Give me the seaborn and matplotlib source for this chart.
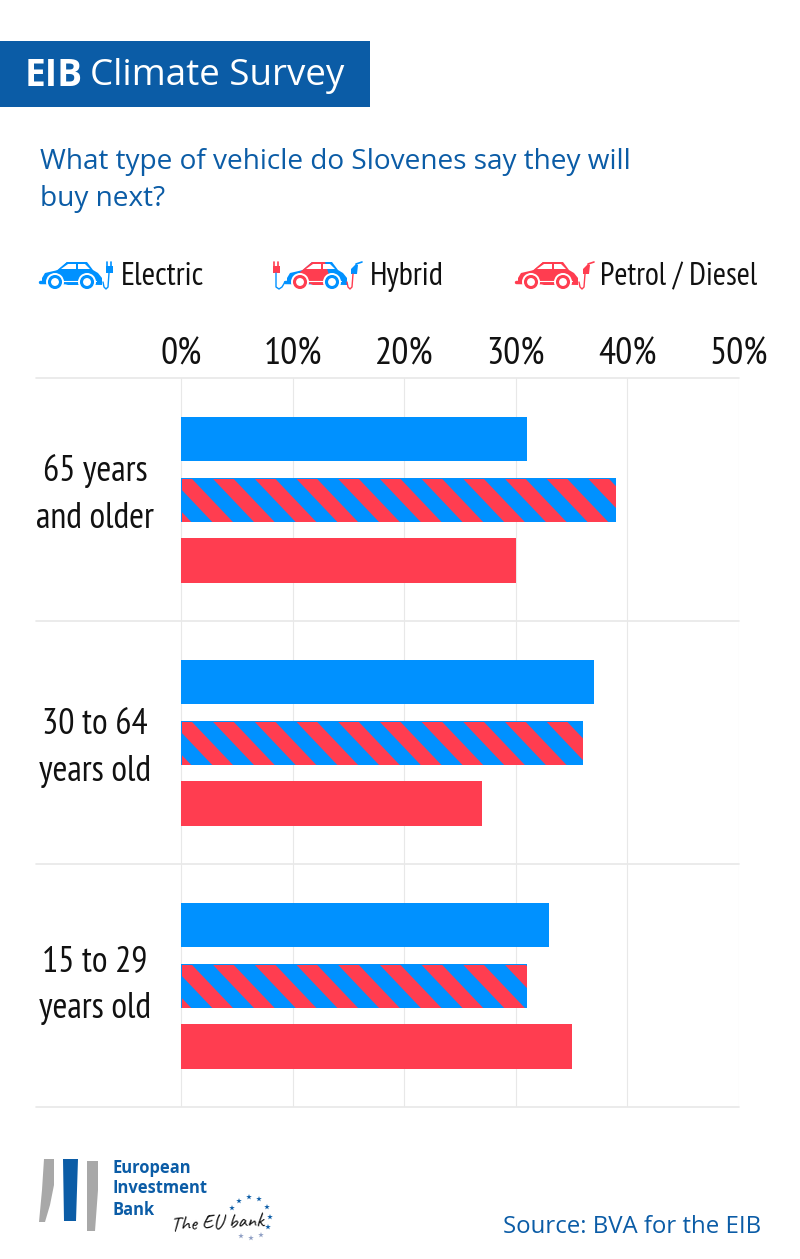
import matplotlib
matplotlib.use("Agg")
import matplotlib.pyplot as plt
import matplotlib.patches as mpatches
import numpy as np
import pandas as pd
import seaborn as sns

# data
age_groups = ["65 years\nand older", "30 to 64\nyears old", "15 to 29\nyears old"]
vehicle_types = ["Electric", "Hybrid", "Petrol / Diesel"]
electric = [31, 37, 33]
hybrid = [39, 36, 31]
petrol = [30, 27, 35]
x_ticks = [0, 10, 20, 30, 40, 50]
x_tick_labels = ["0%", "10%", "20%", "30%", "40%", "50%"]

BLUE = "#0091ff"
RED = "#ff3d50"
NAVY = "#0b5ca6"
W, H = 800, 1259
DPI = 100
NARROW = ["PT Sans Narrow", "Roboto Condensed", "Liberation Sans Narrow", "Open Sans", "DejaVu Sans"]
OPEN = ["Open Sans", "DejaVu Sans"]
SCRIPT = ["Caveat", "DejaVu Serif"]


def px(size):
    return size * 72 / DPI


df = pd.DataFrame({
    "age": np.repeat(age_groups, 3),
    "vehicle": vehicle_types * 3,
    "share": [v for trio in zip(electric, hybrid, petrol) for v in trio],
})

sns.set_theme(style="white")
plt.rcParams["font.family"] = NARROW

fig = plt.figure(figsize=(W / DPI, H / DPI), dpi=DPI, facecolor="white")
# axes starts left of zero so the row separators reach under the age labels
ax = fig.add_axes([36 / W, 1 - 1107.2 / H, (739 - 36) / W, (1107 - 378) / H])

sns.barplot(
    data=df, y="age", x="share", hue="vehicle", order=age_groups,
    hue_order=vehicle_types, palette=[BLUE, BLUE, RED], width=0.75, gap=0.27,
    saturation=1, legend=False, ax=ax, zorder=3, linewidth=0,
)
ax.set_xlim(-13, 50)
ax.set_ylim(2.5, -0.5)
ax.set_xlabel("")
ax.set_ylabel("")
ax.set_xticks(x_ticks, x_tick_labels)
ax.set_yticks([])
ax.xaxis.tick_top()
ax.tick_params(axis="x", length=0, pad=px(6), labelsize=px(38), labelcolor="#111111")
for s in ax.spines.values():
    s.set_visible(False)
for x in x_ticks:
    ax.axvline(x, color="#e8e8e8", lw=0.8, zorder=1)
for y in [-0.5, 0.5, 1.5, 2.5]:
    ax.axhline(y, color="#e8e8e8", lw=1.2, zorder=1, clip_on=False)

# age labels, nudged a little off the group centres like the original
nudge = [-5, 5, -1]
x_per_px = 63 / (739 - 36)
y_per_px = 3 / (1107 - 378)
for i, lab in enumerate(age_groups):
    ax.text(-86 * x_per_px, i + nudge[i] * y_per_px, lab, ha="center", va="center",
            fontsize=px(36), color="#111111", linespacing=1.53)

# hybrid bars: red diagonal stripes clipped to the blue bar
period = 41.7
stripe_w = 15.0
hybrid_bars = ax.containers[1]
for bar in hybrid_bars:
    x0, x1 = bar.get_x(), bar.get_x() + bar.get_width()
    y0, y1 = bar.get_y(), bar.get_y() + bar.get_height()
    h_px = (y1 - y0) / y_per_px
    # the clip box rounds outward by a pixel, so pull it in on the top left
    clip = mpatches.Rectangle((x0 + x_per_px, y0 + y_per_px), x1 - x0 - x_per_px, y1 - y0 - y_per_px,
                              transform=ax.transData)
    for k in range(30):
        sx = 41 + (k - 3) * period
        if sx * x_per_px > x1:
            break
        # run past both long edges so only the clip shapes the stripe ends
        ln, = ax.plot([(sx - h_px * 0.95) * x_per_px, (sx + 2 * h_px * 0.95) * x_per_px],
                      [y0 - (y1 - y0), y1 + (y1 - y0)], color=RED,
                      lw=px(stripe_w), solid_capstyle="butt", zorder=4)
        ln.set_clip_path(clip)
ax.set_xlim(-13, 50)
ax.set_ylim(2.5, -0.5)

# page furniture in pixel coordinates
ov = fig.add_axes([0, 0, 1, 1], facecolor="none")
ov.set_xlim(0, W)
ov.set_ylim(H, 0)
ov.axis("off")

ov.add_patch(mpatches.Rectangle((0, 41), 370, 66, color=NAVY, lw=0))
ov.text(25, 76, "EIB", color="white", fontsize=px(37), fontweight="bold", family=OPEN, va="center")
ov.text(90, 76, "Climate Survey", color="white", fontsize=px(36.7), family=OPEN, va="center")

ov.text(40, 162, "What type of vehicle do Slovenes say they will", color=NAVY,
        fontsize=px(28), family=OPEN, va="center")
ov.text(40, 199, "buy next?", color=NAVY, fontsize=px(28), family=OPEN, va="center")

CAR_BODY = [(2, 284), (2, 278), (5, 273), (18, 270), (27, 262), (47, 262), (53, 270), (58, 273), (62, 278), (62, 285)]
CAR_MID = [(15, 272), (27, 262), (40, 262), (47, 285), (28, 285), (14, 279)]
WINDOW_L = [(21, 269), (28, 264), (36, 264), (36, 269)]
WINDOW_R = [(38, 269), (38, 264), (45, 264), (50, 269)]


def car(x0, body, mid, wheels):
    ov.add_patch(mpatches.Polygon([(x0 + a, b) for a, b in CAR_BODY], fc=body, ec="none"))
    ov.add_patch(mpatches.Polygon([(x0 + a, b) for a, b in CAR_MID], fc=mid, ec="none"))
    for win in (WINDOW_L, WINDOW_R):
        ov.add_patch(mpatches.Polygon([(x0 + a, b) for a, b in win], fc="white", ec="none"))
    ov.plot([x0, x0 + 7], [282, 282], color=body, lw=2.5)
    ov.plot([x0 + 7, x0 + 56], [280.5, 280.5], color="white", lw=0.8, zorder=2)
    for cx, c in ((x0 + 15, wheels[0]), (x0 + 47, wheels[1])):
        ov.add_patch(mpatches.Circle((cx, 282), 9, fc="white", ec="none", zorder=3))
        ov.add_patch(mpatches.Circle((cx, 282), 5.5, fc="white", ec=c, lw=2.2, zorder=4))


def plug(x, c):
    ov.add_patch(mpatches.Rectangle((x - 3.5, 266), 7, 7, fc=c, ec="none"))
    ov.plot([x - 2, x - 2], [262, 266], color=c, lw=1.2)
    ov.plot([x + 2, x + 2], [262, 266], color=c, lw=1.2)


def pump(x, c):
    ov.add_patch(mpatches.Polygon([(x - 3, 274), (x - 3, 269), (x + 2, 264), (x + 4, 265), (x + 3, 274)], fc=c, ec="none"))
    ov.plot([x + 2, x + 8], [264, 262], color=c, lw=1.2)


car(40, BLUE, BLUE, (BLUE, BLUE))
plug(109, BLUE)
ov.plot([109, 108, 106, 104, 103], [273, 287, 289, 287, 282], color=BLUE, lw=1)
ov.text(121, 277, "Electric", fontsize=px(32.5), color="#111111", va="center")

car(285, BLUE, RED, (RED, BLUE))
plug(276, RED)
ov.plot([276, 276, 279, 282, 285], [273, 287, 289, 287, 282], color=BLUE, lw=1)
pump(354, BLUE)
ov.plot([353, 352, 350, 348, 347], [274, 287, 289, 287, 282], color=RED, lw=1)
ov.text(370, 277, "Hybrid", fontsize=px(32.5), color="#111111", va="center")

car(516, RED, RED, (RED, RED))
pump(586, RED)
ov.plot([585, 584, 582, 580, 579], [274, 287, 289, 287, 282], color=RED, lw=1)
ov.text(600, 277, "Petrol / Diesel", fontsize=px(32), color="#111111", va="center")

# logo
ov.add_patch(mpatches.Polygon([(44, 1159), (54, 1159), (54, 1185), (50, 1205), (45, 1222), (39, 1222), (42, 1190)], fc="#a8a8a8", ec="none"))
ov.add_patch(mpatches.Polygon([(63, 1159), (78, 1159), (76, 1221), (64, 1221)], fc=NAVY, ec="none"))
ov.add_patch(mpatches.Polygon([(87, 1161), (98, 1161), (98, 1190), (95, 1231), (87, 1231)], fc="#a8a8a8", ec="none"))
for y, s in zip((1168, 1188, 1210), ("European", "Investment", "Bank")):
    ov.text(113, y, s, color=NAVY, fontsize=px(16.5), fontweight="bold", family=OPEN, va="center")
ov.text(170, 1224, "The EU bank", color="#111111", fontsize=px(21), family=SCRIPT, va="center", rotation=3)
star_x = [232, 239, 249, 259, 267, 270, 268, 261, 251, 241]
star_y = [1208, 1201, 1197, 1199, 1207, 1217, 1227, 1235, 1238, 1236]
ov.scatter(star_x, star_y, marker="*", s=18, c=[NAVY] * 7 + ["#8f9fc4"] * 3, linewidths=0)

ov.text(761, 1227, "Source: BVA for the EIB", color=NAVY, fontsize=px(24), family=OPEN, ha="right", va="center")

fig.savefig("out.png", dpi=DPI)
